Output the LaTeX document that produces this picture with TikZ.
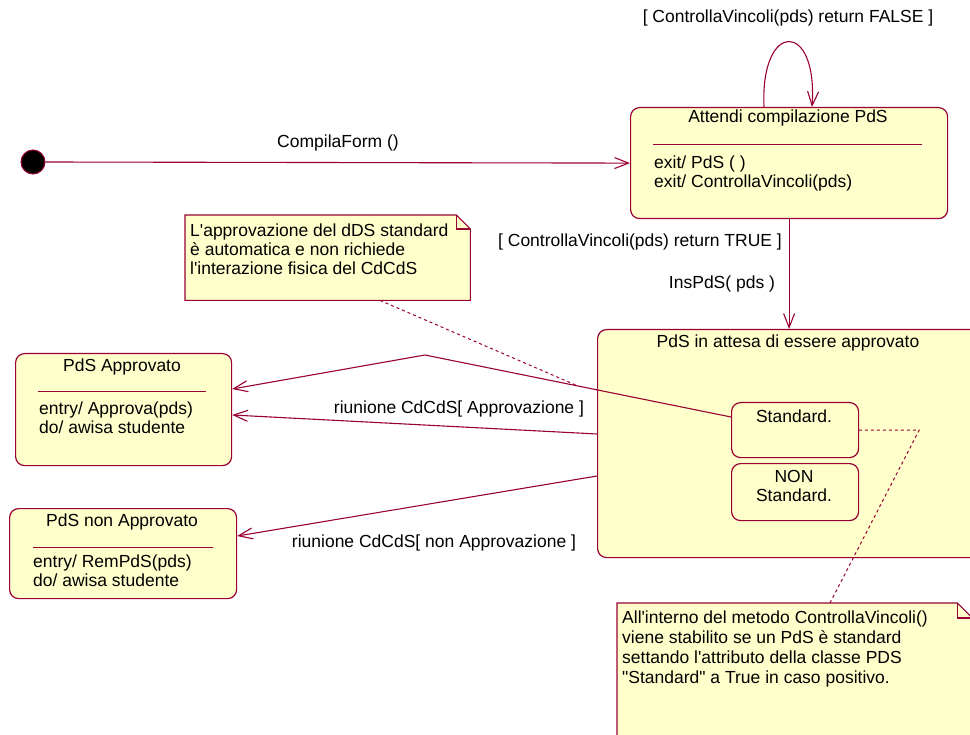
\documentclass[tikz,border=0pt]{standalone}
\usepackage{fontspec}
\setmainfont{Liberation Sans}
\usetikzlibrary{arrows.meta,calc}
\definecolor{umlline}{RGB}{153,0,51}
\definecolor{umlfill}{RGB}{255,255,204}
\begin{document}
\begin{tikzpicture}[x=1pt,y=-1pt,
  every node/.style={font=\fontsize{17.5}{19}\selectfont, inner sep=0pt, text=black},
  statebox/.style={draw=umlline, fill=umlfill, line width=1.2pt, rounded corners=9pt, anchor=north west},
  trans/.style={draw=umlline, line width=1.1pt, -{Straight Barb[length=14pt,width=11pt]}},
  notelink/.style={draw=umlline, line width=1pt, dash pattern=on 3pt off 3pt},
  sepline/.style={draw=umlline, line width=1pt},
  noteedge/.style={draw=umlline, fill=umlfill, line width=1.1pt},
  notebox/.style={anchor=north west},
]
\path[use as bounding box] (0,0) rectangle (970,735);
\clip (0,0) rectangle (970,735);

% initial pseudo-state
\node[circle, fill=black, draw=umlline, line width=1pt, minimum size=24pt] (init) at (33,162) {};

% waiting for the form
\node[statebox, minimum width=317pt, minimum height=111pt] (att) at (630,107) {};
\node (attT) at (788,118) {Attendi compilazione PdS};
\draw[sepline] ($(att.north west)+(23,38)$) -- ++(269,0);
\node[anchor=north west, align=left] (attB) at (654,155.5) {exit/ PdS ( )\\exit/ ControllaVincoli(pds)};

% composite waiting state
\node[statebox, minimum width=400pt, minimum height=228pt] (wait) at (597,329) {};
\node (waitT) at (788,343) {PdS in attesa di essere approvato};
\node[statebox, minimum width=127pt, minimum height=55pt] (std) at (731,402) {};
\node (stdT) at (794,416) {Standard.};
\node[statebox, minimum width=127pt, minimum height=57pt] (nstd) at (731,463) {};
\node[align=center, anchor=north] (nstdT) at (794,470.5) {NON\\Standard.};

% approved
\node[statebox, minimum width=216pt, minimum height=112pt] (appr) at (15,353) {};
\node (apprT) at (122,367) {PdS Approvato};
\draw[sepline] ($(appr.north west)+(23,39)$) -- ++(168,0);
\node[anchor=north west, align=left] (apprB) at (39,401.5) {entry/ Approva(pds)\\do/ awisa studente};

% not approved
\node[statebox, minimum width=227pt, minimum height=90pt] (nappr) at (9,508) {};
\node (napprT) at (122,522) {PdS non Approvato};
\draw[sepline] ($(nappr.north west)+(24,39)$) -- ++(180,0);
\node[anchor=north west, align=left] (napprB) at (33,555) {entry/ RemPdS(pds)\\do/ awisa studente};

% transitions
\draw[trans] (init.east) -- (att.west);
\node (lblCF) at (338,143) {CompilaForm ()};

\draw[trans] ($(att.north west)+(134,0)$) .. controls ($(att.north west)+(130,-87)$) and ($(att.north west)+(188,-87)$) .. ($(att.north west)+(182,0)$);
\node (lblF) at (788,18) {[ ControllaVincoli(pds) return FALSE ]};

\draw[trans] (att.south) -- (att.south |- wait.north);
\node (lblT) at (640,242) {[ ControllaVincoli(pds) return TRUE ]};
\node (lblI) at (722,284) {InsPdS( pds )};

\coordinate (t1bend) at (425,355);
\draw[trans] ($(std.north west)+(0,15)$) -- coordinate[pos=0.5] (t1note) (t1bend) -- ($(appr.north east)+(0,36)$);

\draw[trans] ($(wait.north west)+(0,105)$) -- ($(appr.north east)+(0,62)$);
\node (lblA) at (459,409) {riunione CdCdS[ Approvazione ]};

\draw[trans] ($(wait.north west)+(0,147)$) -- ($(nappr.north east)+(0,28)$);
\node (lblN) at (434,543) {riunione CdCdS[ non Approvazione ]};

% note on the standard approval
\node[notebox, minimum width=285pt, minimum height=85pt] (n1) at (185,215) {};
\draw[noteedge] (n1.north west) -- ($(n1.north east)+(-14,0)$) -- ($(n1.north east)+(0,14)$) -- (n1.south east) -- (n1.south west) -- cycle;
\draw[umlline, line width=1.1pt] ($(n1.north east)+(-14,0)$) -- ++(0,14) -- ++(14,0);
\node[anchor=north west, align=left] (n1T) at (190,223.5) {L\textquotesingle approvazione del dDS standard\\è automatica e non richiede\\l\textquotesingle interazione fisica del CdCdS};
\draw[notelink] ($(n1.south west)+(195,0)$) -- (t1note);

% note on ControllaVincoli
\node[notebox, minimum width=355pt, minimum height=160pt] (n2) at (617,603) {};
\draw[noteedge] (n2.north west) -- ($(n2.north east)+(-15,0)$) -- ($(n2.north east)+(0,15)$) -- (n2.south east) -- (n2.south west) -- cycle;
\draw[umlline, line width=1.1pt] ($(n2.north east)+(-15,0)$) -- ++(0,15) -- ++(15,0);
\node[anchor=north west, align=left, font=\fontsize{17.5}{20}\selectfont] (n2T) at (622,610.5) {All\textquotesingle interno del metodo ControllaVincoli()\\viene stabilito se un PdS è standard\\settando l\textquotesingle attributo della classe PDS\\\textquotedbl Standard\textquotedbl{} a True in caso positivo.};
\coordinate (n2bend) at ($(std.east)+(60,0)$);
\draw[notelink] ($(n2.north west)+(213,0)$) -- (n2bend) -- (std.east);
\end{tikzpicture}
\end{document}
